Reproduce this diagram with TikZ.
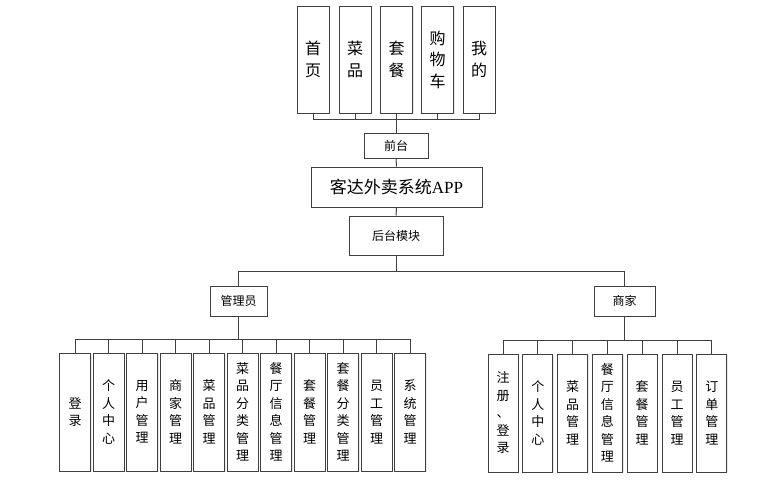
\documentclass[tikz,border=0pt]{standalone}
\usepackage{fontspec}
\newfontfamily\cjk{Noto Sans CJK SC}
\newfontfamily\latserif{Liberation Serif}
\usetikzlibrary{shadows}
\begin{document}
\begin{tikzpicture}[x=1pt,y=-1pt,
  box/.style={draw=black!75,line width=1pt,fill=white,inner sep=0pt,align=center,
    drop shadow={opacity=0.18,shadow xshift=1.2pt,shadow yshift=-1.2pt}},
  topbox/.style={box,minimum width=32pt,minimum height=107pt,font=\fontsize{16}{21.5}\cjk},
  botbox/.style={box,minimum width=31pt,minimum height=118pt,font=\fontsize{13}{17.5}\cjk},
  midbox/.style={box,font=\fontsize{12}{14}\cjk},
  conn/.style={draw=black!75,line width=1pt}]
\useasboundingbox (0,0) rectangle (783,482);
% top modules
\node[topbox] (t1) at (313,59.5) {首\\页};
\node[topbox] (t2) at (355,59.5) {菜\\品};
\node[topbox] (t3) at (396.5,59.5) {套\\餐};
\node[topbox] (t4) at (437.5,59.5) {购\\物\\车};
\node[topbox] (t5) at (479,59.5) {我\\的};
\coordinate (jt) at (396,119);
% middle
\node[midbox,minimum width=64pt,minimum height=25pt] (qt) at (396,145.5) {前台};
\node[box,minimum width=171pt,minimum height=40pt,font=\fontsize{17}{20}\cjk] (app) at (396.5,187) {客达外卖系统{\latserif APP}};
\node[midbox,minimum width=94pt,minimum height=39pt] (ht) at (396,235.5) {后台模块};
\coordinate (jm) at (396,271);
\node[midbox,minimum width=57pt,minimum height=30pt] (gl) at (238.5,301) {管理员};
\node[midbox,minimum width=61pt,minimum height=30pt] (sj) at (624.5,301) {商家};
\coordinate (jl) at (238.5,339);
\coordinate (jr) at (624.5,340);
% admin modules
\node[botbox] (a1) at (75,412) {登\\录};
\node[botbox] (a2) at (108.5,412) {个\\人\\中\\心};
\node[botbox] (a3) at (142,412) {用\\户\\管\\理};
\node[botbox] (a4) at (175.5,412) {商\\家\\管\\理};
\node[botbox] (a5) at (209,412) {菜\\品\\管\\理};
\node[botbox] (a6) at (242.5,412) {菜\\品\\分\\类\\管\\理};
\node[botbox] (a7) at (276,412) {餐\\厅\\信\\息\\管\\理};
\node[botbox] (a8) at (309.5,412) {套\\餐\\管\\理};
\node[botbox] (a9) at (343,412) {套\\餐\\分\\类\\管\\理};
\node[botbox] (a10) at (376.5,412) {员\\工\\管\\理};
\node[botbox] (a11) at (410,412) {系\\统\\管\\理};
% merchant modules
\node[botbox,minimum width=30pt] (b1) at (503,413) {注\\册\\、\\登\\录};
\node[botbox,minimum width=30pt] (b2) at (537.8,413) {个\\人\\中\\心};
\node[botbox,minimum width=30pt] (b3) at (572.6,413) {菜\\品\\管\\理};
\node[botbox,minimum width=30pt] (b4) at (607.4,413) {餐\\厅\\信\\息\\管\\理};
\node[botbox,minimum width=30pt] (b5) at (642.2,413) {套\\餐\\管\\理};
\node[botbox,minimum width=30pt] (b6) at (677,413) {员\\工\\管\\理};
\node[botbox,minimum width=30pt] (b7) at (711.8,413) {订\\单\\管\\理};
% connectors
\foreach \n in {t1,t2,t3,t4,t5} \draw[conn] (\n.south) |- (jt);
\draw[conn] (jt) -- (qt.north);
\draw[conn] (qt.south) -- (app.north);
\draw[conn] (app.south) -- (ht.north);
\draw[conn] (ht.south) -- (jm);
\draw[conn] (jm) -| (gl.north);
\draw[conn] (jm) -| (sj.north);
\draw[conn] (gl.south) -- (jl);
\draw[conn] (sj.south) -- (jr);
\foreach \n in {a1,a2,a3,a4,a5,a6,a7,a8,a9,a10,a11} \draw[conn] (\n.north) |- (jl);
\foreach \n in {b1,b2,b3,b4,b5,b6,b7} \draw[conn] (\n.north) |- (jr);
\end{tikzpicture}
\end{document}
